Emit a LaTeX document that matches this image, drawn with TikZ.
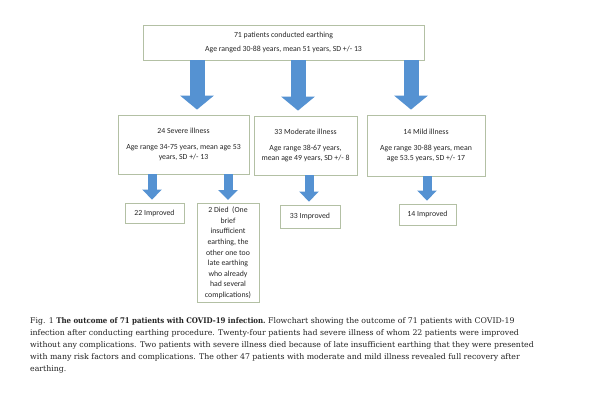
\documentclass[tikz,border=0pt]{standalone}
\usepackage{fontspec}
\setmainfont{DejaVu Serif}
\newfontfamily\carlito{Carlito}
\usetikzlibrary{arrows.meta}
\usepackage{graphicx}
\definecolor{boxgreen}{HTML}{B3C0A4}
\definecolor{arrowblue}{HTML}{5592D2}
\definecolor{captext}{HTML}{222222}
\tikzset{
  fbox/.style={draw=boxgreen, line width=0.8pt, fill=white, align=center,
    inner sep=0pt, font=\carlito\fontsize{7.8}{10.6}\selectfont, text=black!85},
  bigarrow/.style={draw=arrowblue, line width=15pt,
    -{Triangle[length=14pt,width=33pt]}, arrowblue, shorten >=5pt},
  smallarrow/.style={draw=arrowblue, line width=9pt,
    -{Triangle[length=10pt,width=19pt]}, arrowblue, shorten >=3pt}
}
\begin{document}
\begin{tikzpicture}[x=1pt,y=-1pt]
\useasboundingbox (0,0) rectangle (600,400);
\fill[white] (0,0) rectangle (600,400);

\node[fbox, minimum width=281pt, minimum height=35pt] (top) at (283.5,42.5)
  {71 patients conducted earthing\\[3.5pt]Age ranged 30-88 years, mean 51 years, SD +/- 13};

\node[fbox, minimum width=131pt, minimum height=59pt] (severe) at (183.5,144.5)
  {24 Severe illness\\[5pt]Age range 34-75 years, mean age 53\\years, SD +/- 13};
\node[fbox, minimum width=103pt, minimum height=59pt] (moderate) at (305.5,145.5)
  {33 Moderate illness\\[5pt]Age range 38-67 years,\\mean age 49 years, SD +/- 8};
\node[fbox, minimum width=118pt, minimum height=61pt] (mild) at (426,145.5)
  {14 Mild illness\\[5pt]Age range 30-88 years, mean\\age 53.5 years, SD +/- 17};

\node[fbox, minimum width=59pt, minimum height=20pt] (imp22) at (154.5,213) {22 Improved};
\node[fbox, minimum width=62pt, minimum height=99pt, anchor=north] (died) at (228,203)
  {2 Died\ \ (One\\brief\\insufficient\\earthing, the\\other one too\\late earthing\\who already\\had several\\complications)};
\node[fbox, minimum width=60pt, minimum height=23pt] (imp33) at (310,216.5) {33 Improved};
\node[fbox, minimum width=57pt, minimum height=21pt] (imp14) at (427.5,214.5) {14 Improved};

\draw[bigarrow] (top.south -| 197,0) -- (severe.north -| 197,0);
\draw[bigarrow] (top.south -| 298,0) -- (moderate.north -| 298,0);
\draw[bigarrow] (top.south -| 411,0) -- (mild.north -| 411,0);

\draw[smallarrow] (severe.south -| 152,0) -- (imp22.north -| 152,0);
\draw[smallarrow] (severe.south -| 228,0) -- (died.north -| 228,0);
\draw[smallarrow] (moderate.south -| 309,0) -- (imp33.north -| 309,0);
\draw[smallarrow] (mild.south -| 427,0) -- (imp14.north -| 427,0);

\node[anchor=north west, align=left, inner sep=0pt, text=captext,
  font=\fontsize{7.8}{12}\selectfont] (caption) at (30,317)
  {Fig. 1 \scalebox{0.9}[1]{\textbf{The outcome of 71 patients with COVID-19 infection.}} Flowchart showing the outcome of 71 patients with COVID-19\\
   infection after conducting earthing procedure. Twenty-four patients had severe illness of whom 22 patients were improved\\
   without any complications. Two patients with severe illness died because of late insufficient earthing that they were presented\\
   with many risk factors and complications. The other 47 patients with moderate and mild illness revealed full recovery after\\
   earthing.};
\end{tikzpicture}
\end{document}
